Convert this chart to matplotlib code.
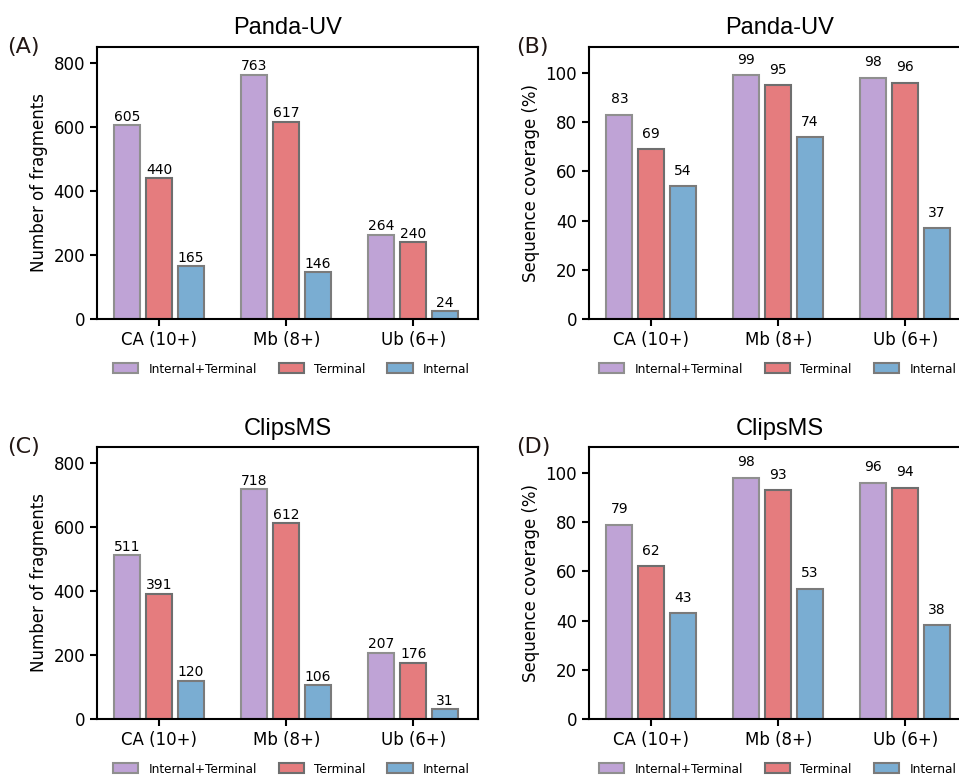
import numpy as np
import matplotlib
matplotlib.use('Agg')
import matplotlib.pyplot as plt

# datos
groups = ['CA (10+)', 'Mb (8+)', 'Ub (6+)']
series = ['Internal+Terminal', 'Terminal', 'Internal']

panda_frag = [[605, 763, 264], [440, 617, 240], [165, 146, 24]]
panda_cov = [[83, 99, 98], [69, 95, 96], [54, 74, 37]]
clips_frag = [[511, 718, 207], [391, 612, 176], [120, 106, 31]]
clips_cov = [[79, 98, 96], [62, 93, 94], [43, 53, 38]]

colors = ['#BFA3D6', '#E57C7E', '#7AADD2']
edges = ['#8f8f8f', '#6e6e6e', '#7a7a7a']

plt.rcParams['font.family'] = 'DejaVu Sans'

fig = plt.figure(figsize=(9.59, 7.77), dpi=100)
W, H = 959, 777


def make_ax(x0, y_top, y_bot):
    return fig.add_axes([x0 / W, 1 - y_bot / H, 381 / W, (y_bot - y_top) / H])


def panel(ax, data, ylim, yticks, ylabel, title, letter, lx, lg_x):
    x = np.arange(len(groups))
    for i, vals in enumerate(data):
        bars = ax.bar(x + (i - 1) * 0.25, vals, width=0.205, color=colors[i],
                      edgecolor=edges[i], linewidth=1.5, label=series[i])
        ax.bar_label(bars, labels=[str(v) for v in vals], padding=1 if ylim > 200 else 6,
                     fontsize=10)
    ax.set_xlim(-0.49, 2.51)
    ax.set_ylim(0, ylim)
    ax.set_yticks(yticks)
    ax.set_xticks(x)
    ax.set_xticklabels(groups)
    ax.tick_params(labelsize=12, width=1.5, length=5)
    for s in ax.spines.values():
        s.set_linewidth(1.5)
    ax.set_ylabel(ylabel, fontsize=12)
    ax.set_title(title, fontsize=17, family='Liberation Sans', pad=9)
    ax.text(lx, 1.0, letter, transform=ax.transAxes, fontsize=16,
            color='#231815', ha='left', va='center')
    ax.legend(loc='upper center', bbox_to_anchor=(lg_x, -0.12), ncol=3, frameon=False,
              fontsize=8.7, handlelength=2.1, handleheight=0.9, columnspacing=1.8,
              handletextpad=0.85)


ax1 = make_ax(97, 47, 319)
ax2 = make_ax(589, 47, 319)
ax3 = make_ax(97, 447, 719)
ax4 = make_ax(589, 447, 719)

panel(ax1, panda_frag, 850, [0, 200, 400, 600, 800], 'Number of fragments', 'Panda-UV', '(A)', -0.235, 0.51)
panel(ax2, panda_cov, 110.5, [0, 20, 40, 60, 80, 100], 'Sequence coverage (%)', 'Panda-UV', '(B)', -0.19, 0.495)
panel(ax3, clips_frag, 850, [0, 200, 400, 600, 800], 'Number of fragments', 'ClipsMS', '(C)', -0.235, 0.51)
panel(ax4, clips_cov, 110.5, [0, 20, 40, 60, 80, 100], 'Sequence coverage (%)', 'ClipsMS', '(D)', -0.19, 0.495)

fig.savefig('out.png', dpi=100)
